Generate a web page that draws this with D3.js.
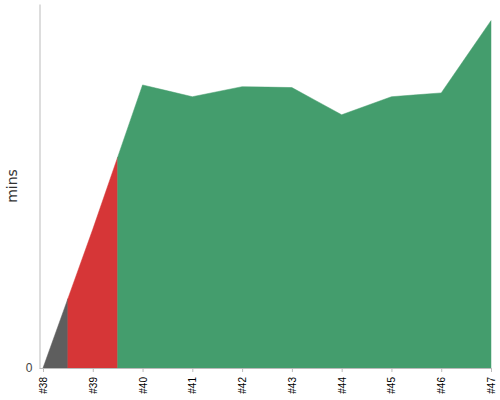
<!DOCTYPE html>
<html>
<head>
<meta charset="utf-8">
<script src="https://cdn.jsdelivr.net/npm/d3@7"></script>
<style>
  html, body { margin: 0; padding: 0; background: #fff; }
  svg { display: block; font-family: "DejaVu Sans", Verdana, sans-serif; }
</style>
</head>
<body>
<svg id="chart" width="500" height="400"></svg>
<script>
// ---- data ----
const builds = ["#38", "#39", "#40", "#41", "#42", "#43", "#44", "#45", "#46", "#47"];
const durations = [0, 8.0, 16.33, 15.65, 16.23, 16.18, 14.61, 15.65, 15.87, 20.04];
const statuses = ["aborted", "failure", "success", "success", "success", "success", "success", "success", "success", "success"];
const yTickValues = [0];
const yLabel = "mins";

const statusColor = { aborted: "#5e5e5e", failure: "#d63637", success: "#449d6d" };

// ---- layout ----
const svg = d3.select("#chart");
const x = d3.scaleLinear().domain([0, builds.length - 1]).range([43, 491]);
const y = d3.scaleLinear().domain([0, 21]).range([368, 4]);

const valAt = t => {
  const i0 = Math.floor(t), i1 = Math.min(builds.length - 1, i0 + 1);
  const f = t - i0;
  return durations[i0] * (1 - f) + durations[i1] * f;
};

// build segments by status (each build owns half-way to neighbours), merging equal statuses
const segments = [];
builds.forEach((b, i) => {
  const lo = Math.max(0, i - 0.5), hi = Math.min(builds.length - 1, i + 0.5);
  const pts = [];
  if (lo < i) pts.push({ t: lo, v: valAt(lo) });
  pts.push({ t: i, v: durations[i] });
  if (hi > i) pts.push({ t: hi, v: valAt(hi) });
  const last = segments[segments.length - 1];
  if (last && last.status === statuses[i]) {
    last.points.push(...pts.slice(1));
  } else {
    segments.push({ status: statuses[i], points: pts });
  }
});

const area = d3.area()
  .x(d => x(d.t))
  .y0(y(0))
  .y1(d => y(d.v));

svg.append("g").selectAll("path")
  .data(segments)
  .join("path")
  .attr("d", d => area(d.points))
  .attr("fill", d => statusColor[d.status])
  .attr("stroke", d => statusColor[d.status])
  .attr("stroke-width", 0.5);

// ---- axes ----
const xAxis = d3.axisBottom(x)
  .tickValues(d3.range(builds.length))
  .tickFormat(i => builds[i])
  .tickSize(4)
  .tickSizeOuter(0);

const gx = svg.append("g").attr("transform", `translate(0,${y(0)})`).call(xAxis);
gx.select(".domain").attr("d", `M39.5,0.5H491.5`).attr("stroke", "#bbb");
gx.selectAll(".tick line").attr("stroke", "#bbb");
gx.selectAll(".tick text")
  .attr("transform", "rotate(-90)")
  .attr("text-anchor", "end")
  .attr("x", -9)
  .attr("y", 0)
  .attr("dy", "0.35em")
  .attr("fill", "#000")
  .style("font-size", "10px");

const yAxis = d3.axisLeft(y)
  .tickValues(yTickValues)
  .tickSize(0)
  .tickPadding(7)
  .tickSizeOuter(0);
const gy = svg.append("g").attr("transform", "translate(39.5,0)").call(yAxis);
gy.select(".domain").attr("stroke", "#bbb");
gy.selectAll(".tick text").attr("fill", "#444").style("font-size", "12px");

svg.append("text")
  .attr("transform", `translate(17,${(y(0) + y(21)) / 2}) rotate(-90)`)
  .attr("text-anchor", "middle")
  .attr("fill", "#333")
  .style("font-size", "14px")
  .text(yLabel);
</script>
</body>
</html>
